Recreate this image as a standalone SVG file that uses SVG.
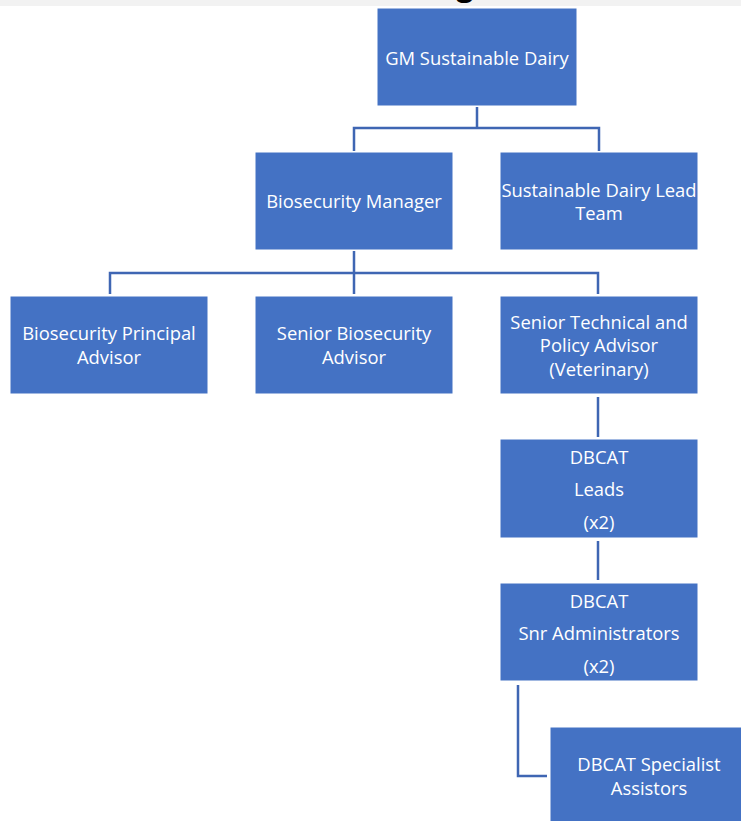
<svg xmlns="http://www.w3.org/2000/svg" width="741" height="821" viewBox="0 0 741 821">
<style>
.box{fill:#4472C4;stroke:#ffffff;stroke-width:1}
.t{fill:#ffffff;font-family:"Open Sans","Noto Sans",sans-serif;font-size:18.4px;text-anchor:middle;dominant-baseline:central}
.c{fill:none;stroke:#3F66B3;stroke-width:2.5}
</style>
<rect x="0" y="0" width="741" height="821" fill="#ffffff"/>
<rect x="0" y="0" width="741" height="6" fill="#f2f2f2"/>
<text x="465" y="-4" font-family="Open Sans, sans-serif" font-size="30" font-weight="bold" text-anchor="middle" fill="#000000">g</text>
<g id="connectors">
<path class="c" d="M477,107 V128 M354,151 V128 H599 V151"/>
<path class="c" d="M354,251 V273 M110,294 V273 H598 V294 M354,273 V294"/>
<path class="c" d="M598,397 V437"/>
<path class="c" d="M598,541 V580"/>
<path class="c" d="M518,685 V776 H547"/>
</g>
<g id="gm"><rect class="box" x="377" y="8" width="200" height="98"/><text class="t" x="477" y="57">GM Sustainable Dairy</text></g>
<g id="biosecurity-manager"><rect class="box" x="255" y="152" width="198" height="98"/><text class="t" x="354" y="200">Biosecurity Manager</text></g>
<g id="lead-team"><rect class="box" x="500" y="152" width="198" height="98"/><text class="t" x="599" y="189">Sustainable Dairy Lead</text><text class="t" x="599" y="212">Team</text></g>
<g id="principal-advisor"><rect class="box" x="10" y="296" width="198" height="98"/><text class="t" x="109" y="332">Biosecurity Principal</text><text class="t" x="109" y="356">Advisor</text></g>
<g id="senior-advisor"><rect class="box" x="255" y="296" width="198" height="98"/><text class="t" x="354" y="332">Senior Biosecurity</text><text class="t" x="354" y="356">Advisor</text></g>
<g id="technical-advisor"><rect class="box" x="500" y="296" width="198" height="98"/><text class="t" x="599" y="321">Senior Technical and</text><text class="t" x="599" y="344">Policy Advisor</text><text class="t" x="599" y="368">(Veterinary)</text></g>
<g id="dbcat-leads"><rect class="box" x="500" y="439" width="198" height="99"/><text class="t" x="599" y="456">DBCAT</text><text class="t" x="599" y="488">Leads</text><text class="t" x="599" y="521">(x2)</text></g>
<g id="dbcat-admin"><rect class="box" x="500" y="583" width="198" height="98"/><text class="t" x="599" y="600">DBCAT</text><text class="t" x="599" y="632">Snr Administrators</text><text class="t" x="599" y="665">(x2)</text></g>
<g id="dbcat-assistors"><rect class="box" x="550" y="727" width="200" height="100"/><text class="t" x="649" y="763">DBCAT Specialist</text><text class="t" x="649" y="787">Assistors</text></g>
</svg>
